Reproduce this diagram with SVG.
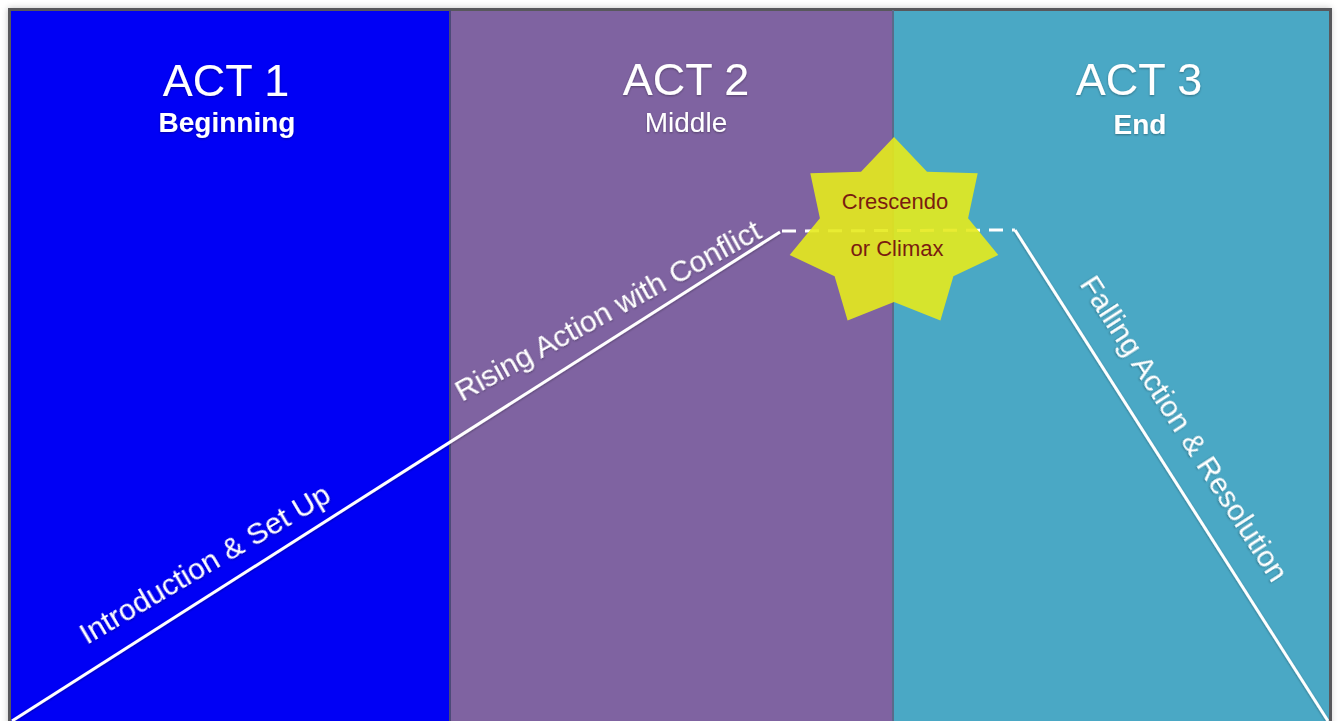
<svg xmlns="http://www.w3.org/2000/svg" width="1338" height="721" viewBox="0 0 1338 721">
  <defs>
    <filter id="soft" x="-10%" y="-10%" width="120%" height="120%">
      <feDropShadow dx="0" dy="1" stdDeviation="1" flood-color="#000" flood-opacity="0.35"/>
    </filter>
    <filter id="frameShadow" x="-5%" y="-5%" width="110%" height="110%">
      <feGaussianBlur stdDeviation="3"/>
    </filter>
  </defs>
  <style>
    .title { font-family: "Liberation Sans", Arial, sans-serif; font-size: 45px; fill: #ffffff; text-anchor: middle; }
    .sub { font-family: "Liberation Sans", Arial, sans-serif; font-size: 28px; fill: #ffffff; text-anchor: middle; }
    .bold { font-weight: bold; }
    .diag { font-family: "Liberation Sans", Arial, sans-serif; font-size: 30px; fill: #ffffff; }
    .star-text { font-family: "Liberation Sans", Arial, sans-serif; font-size: 22px; fill: #7a1c10; text-anchor: middle; }
    .plot { fill: none; stroke: #ffffff; stroke-width: 3; stroke-linejoin: round; }
    .dash { fill: none; stroke: #ffffff; stroke-width: 3; stroke-dasharray: 14 9; }
  </style>
  <rect width="1338" height="721" fill="#ffffff"/>
  <rect x="8" y="8" width="1323" height="730" fill="#888" opacity="0.5" filter="url(#frameShadow)"/>

  <g id="act1">
    <rect x="10" y="10" width="440" height="720" fill="#0000f5"/>
    <text class="title" x="226" y="96" filter="url(#soft)">ACT 1</text>
    <text class="sub bold" x="227" y="132" filter="url(#soft)">Beginning</text>
  </g>
  <g id="act2">
    <rect x="450" y="10" width="443" height="720" fill="#7f63a1"/>
    <text class="title" x="686" y="95" filter="url(#soft)">ACT 2</text>
    <text class="sub" x="686" y="132" filter="url(#soft)">Middle</text>
  </g>
  <g id="act3">
    <rect x="893" y="10" width="437" height="720" fill="#4aa8c5"/>
    <text class="title" x="1139" y="95" filter="url(#soft)">ACT 3</text>
    <text class="sub bold" x="1140" y="134" filter="url(#soft)">End</text>
  </g>
  <g id="frame" fill="none" stroke="#58585c">
    <rect x="9.5" y="9.5" width="1321" height="730" stroke-width="3"/>
    <line x1="450" y1="10" x2="450" y2="721" stroke-width="2" stroke="#4c4a78"/>
    <line x1="893" y1="10" x2="893" y2="721" stroke-width="2" stroke="#5a6a8a"/>
  </g>

  <g id="connectors">
    <polyline class="plot" points="12,721 780,232" filter="url(#soft)"/>
    <line class="dash" x1="782" y1="231" x2="1015" y2="230"/>
    <polyline class="plot" points="1015,230 1328,721" filter="url(#soft)"/>
  </g>

  <g id="labels">
    <text class="diag" transform="translate(87,645) rotate(-30.5)" filter="url(#soft)">Introduction &amp; Set Up</text>
    <text class="diag" transform="translate(462,402) rotate(-28.7)" filter="url(#soft)">Rising Action with Conflict</text>
    <text class="diag" transform="translate(1079,284) rotate(57.2)" filter="url(#soft)">Falling Action &amp; Resolution</text>
  </g>

  <g id="climax">
    <polygon points="894,137 927,171.8 977.7,173.3 968.1,218.3 998.3,255 953.4,276.2 940.4,320.4 894,302 847.6,320.4 834.6,276.2 789.7,255 819.9,218.3 810.3,173.3 861,171.8" fill="#e6ea1c" fill-opacity="0.9"/>
    <text class="star-text" x="895" y="209">Crescendo</text>
    <text class="star-text" x="897" y="256">or Climax</text>
  </g>
</svg>
